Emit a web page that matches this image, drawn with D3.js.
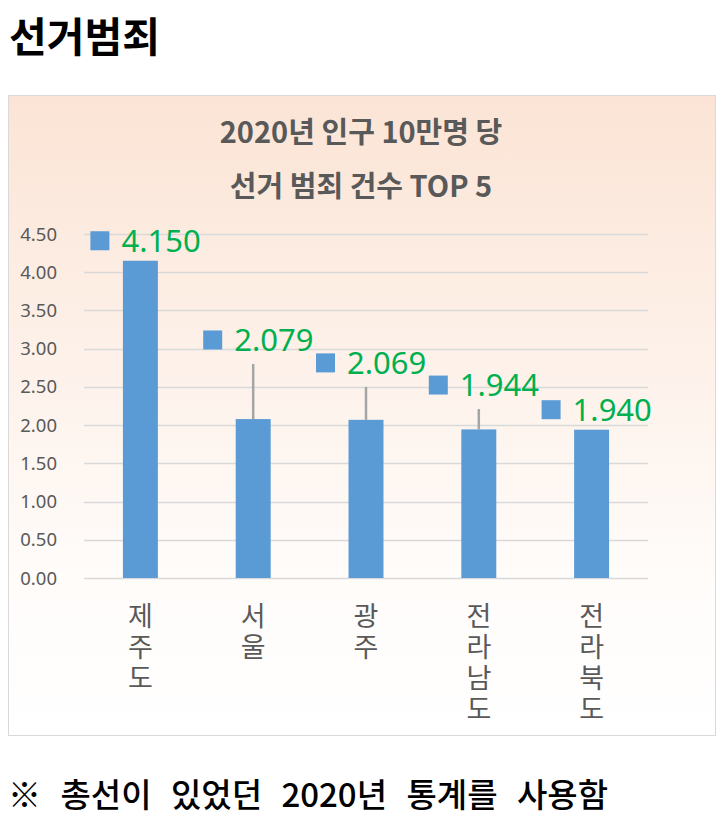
<!DOCTYPE html>
<html>
<head>
<meta charset="utf-8">
<script src="https://cdn.jsdelivr.net/npm/d3@7"></script>
<style>
  body { margin: 0; background: #fff; }
  text { font-family: "Noto Sans CJK KR", "Noto Sans", sans-serif; }
</style>
</head>
<body>
<svg id="chart" width="724" height="833"></svg>
<script>
// 지역별 데이터 (2020년 인구 10만명 당 선거범죄 건수)
const regions = ['제주도', '서울', '광주', '전라남도', '전라북도'];
const values = [4.150, 2.079, 2.069, 1.944, 1.940];
const errTop = [null, 2.80, 2.50, 2.21, null]; // 회색 오차선 위 끝
const yTicks = [0, 0.5, 1, 1.5, 2, 2.5, 3, 3.5, 4, 4.5];
const titleLines = ['2020년 인구 10만명 당', '선거 범죄 건수 TOP 5'];

const svg = d3.select('#chart');

// 배경 그라데이션
const defs = svg.append('defs');
const grad = defs.append('linearGradient')
    .attr('id', 'bg')
    .attr('x1', 0).attr('y1', 0).attr('x2', 0).attr('y2', 1);
grad.append('stop').attr('offset', '0%').attr('stop-color', '#fbe4d5');
grad.append('stop').attr('offset', '75%').attr('stop-color', '#fffcfa');
grad.append('stop').attr('offset', '100%').attr('stop-color', '#ffffff');

// 페이지 제목
svg.append('text')
    .attr('x', 9).attr('y', 52)
    .style('font-size', '41px')
    .style('font-weight', 700)
    .attr('fill', '#000')
    .text('선거범죄');

// 차트 박스
svg.append('rect')
    .attr('x', 8.5).attr('y', 95.5)
    .attr('width', 707).attr('height', 640)
    .attr('fill', 'url(#bg)')
    .attr('stroke', '#d9d9d9');

// 차트 제목
svg.selectAll('.title')
    .data(titleLines)
    .enter()
    .append('text')
    .classed('title', true)
    .attr('x', 361)
    .attr('y', (d, i) => 143 + i * 54)
    .attr('text-anchor', 'middle')
    .style('font-size', '29px')
    .style('font-weight', 700)
    .attr('fill', '#595959')
    .text(d => d);

const xScale = d3.scaleBand().domain(regions).range([84, 648]).paddingInner(0.69).paddingOuter(0.345);
const yScale = d3.scaleLinear().domain([0, 4.5]).range([578, 234]);

// 격자선
svg.selectAll('.grid')
    .data(yTicks)
    .enter()
    .append('line')
    .classed('grid', true)
    .attr('x1', 84).attr('x2', 648)
    .attr('y1', d => Math.round(yScale(d)) + 0.5)
    .attr('y2', d => Math.round(yScale(d)) + 0.5)
    .attr('stroke', '#d9d9d9')
    .attr('stroke-width', 1.5);

// y축 눈금 라벨
svg.selectAll('.ytick')
    .data(yTicks)
    .enter()
    .append('text')
    .classed('ytick', true)
    .attr('x', 57)
    .attr('y', d => yScale(d) + 6.5)
    .attr('text-anchor', 'end')
    .style('font-family', '"Noto Sans", sans-serif')
    .style('font-size', '18.5px')
    .attr('fill', '#595959')
    .text(d => d3.format('.2f')(d));

// 막대
svg.selectAll('.bar')
    .data(regions)
    .enter()
    .append('rect')
    .classed('bar', true)
    .attr('x', d => xScale(d))
    .attr('width', xScale.bandwidth())
    .attr('y', (d, i) => yScale(values[i]))
    .attr('height', (d, i) => yScale(0) - yScale(values[i]))
    .attr('fill', '#5b9bd5');

// 오차선
svg.selectAll('.err')
    .data(regions.filter((d, i) => errTop[i] != null))
    .enter()
    .append('line')
    .classed('err', true)
    .attr('x1', d => xScale(d) + xScale.bandwidth() / 2)
    .attr('x2', d => xScale(d) + xScale.bandwidth() / 2)
    .attr('y1', d => yScale(values[regions.indexOf(d)]))
    .attr('y2', d => yScale(errTop[regions.indexOf(d)]))
    .attr('stroke', '#a5a5a5')
    .attr('stroke-width', 2.5);

// 데이터 라벨 (파란 사각형 + 초록 숫자)
const labelY = (i) => yScale(Math.max(values[i], errTop[i] || 0)) - (errTop[i] ? 24 : 20);
const labels = svg.selectAll('.lab')
    .data(regions)
    .enter()
    .append('g')
    .classed('lab', true)
    .attr('transform', (d, i) => `translate(${xScale(d) + xScale.bandwidth() / 2},${labelY(i)})`);

labels.append('rect')
    .attr('x', -50).attr('y', -9.5)
    .attr('width', 19).attr('height', 19)
    .attr('fill', '#5b9bd5');

labels.append('text')
    .attr('x', -19).attr('y', 11)
    .style('font-family', '"Noto Sans", sans-serif')
    .style('font-size', '31px')
    .attr('fill', '#00b050')
    .text((d, i) => d3.format('.3f')(values[i]));

// x축 라벨 (세로 쓰기)
const cats = svg.selectAll('.cat')
    .data(regions)
    .enter()
    .append('text')
    .classed('cat', true)
    .attr('text-anchor', 'middle')
    .style('font-size', '27px')
    .attr('fill', '#595959');

cats.selectAll('tspan')
    .data(d => d.split('').map(c => ({ c: c, r: d })))
    .enter()
    .append('tspan')
    .attr('x', d => xScale(d.r) + xScale.bandwidth() / 2)
    .attr('y', (d, i) => 626 + i * 31)
    .text(d => d.c);

// 각주
svg.append('text')
    .attr('x', 8).attr('y', 807)
    .style('font-size', '33px')
    .style('font-weight', 500)
    .style('word-spacing', '12px')
    .attr('fill', '#000')
    .text('※ 총선이 있었던 2020년 통계를 사용함');
</script>
</body>
</html>
